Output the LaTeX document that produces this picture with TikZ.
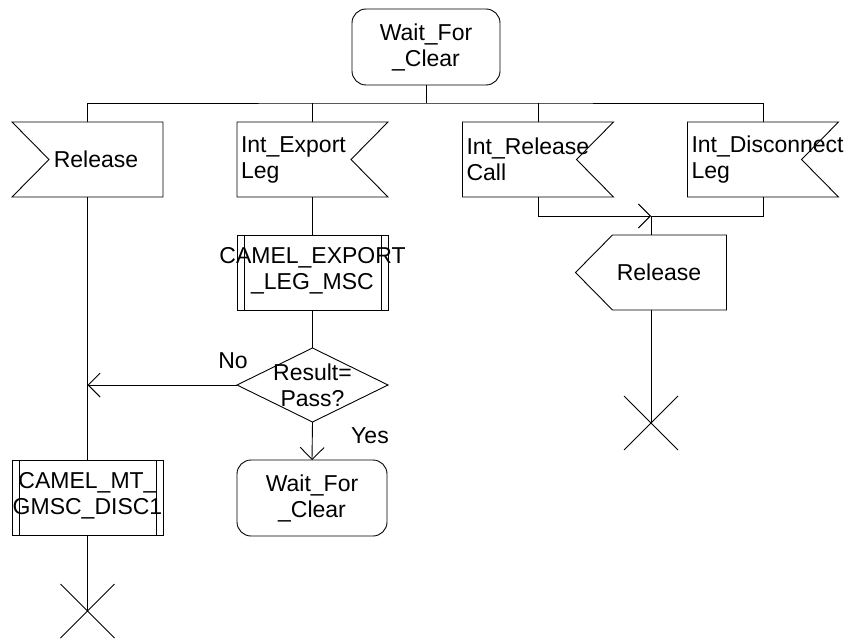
\documentclass[tikz,border=0pt]{standalone}
\usepackage{fontspec}
\setmainfont{Liberation Sans}
\usepackage{tikz}
\usetikzlibrary{arrows.meta,calc,positioning}
\tikzset{
  sdlline/.style={draw=black,line width=0.9pt},
  sdlflow/.style={-{Straight Barb[length=12pt,width=24pt]},draw=black,line width=0.9pt},
  sdltext/.style={font=\fontsize{23}{26}\selectfont,text=black},
  sdlbox/.style={sdltext,rectangle,minimum width=151pt,minimum height=75pt,inner sep=0pt,outer sep=0pt},
  sdlstate/.style={sdlbox,minimum width=148pt,minimum height=76pt,draw=black,line width=0.9pt,rounded corners=14pt,align=center},
  sdlproc/.style={sdlbox,draw=black,line width=0.9pt,
    path picture={
      \draw[line width=0.9pt]
        ([xshift=7pt]path picture bounding box.north west) -- ([xshift=7pt]path picture bounding box.south west)
        ([xshift=-7pt]path picture bounding box.north east) -- ([xshift=-7pt]path picture bounding box.south east);
    }},
  sdlinput/.style={sdlbox,text width=143pt,align=left},
  sdldecision/.style={sdlbox,minimum height=74pt,align=center},
}
\begin{document}
\begin{tikzpicture}[x=1pt,y=-1pt]
  \useasboundingbox (0,0) rectangle (854,639);

  % Start state and the four inputs hanging from the bus.
  \node[sdlstate] (st0) at (426,47) {Wait\_For\\\_Clear};
  \node[sdlinput,align=center] (in1) at (87.5,159.5) {\hspace*{17pt}Release};
  \node[sdlinput] (in2) at (312.5,159.5) {Int\_Export\\Leg};
  \node[sdlinput] (in3) at (538,159.5) {Int\_Release\\Call};
  \node[sdlinput] (in4) at (763,159.5) {Int\_Disconnect\\Leg};
  \coordinate (bus) at (426,103);

  % Middle column: procedure, decision and next state.
  \node[sdlproc] (proc1) at (312.5,272.5) {};
  \node[sdltext,align=center] (proc1txt) at ([yshift=2pt]proc1) {CAMEL\_EXPORT\\\_LEG\_MSC};
  \node[sdldecision] (dec1) at (312.5,385) {Result=\\Pass?};
  \node[sdlstate,minimum width=150pt] (st1) at (312,498) {Wait\_For\\\_Clear};
  \node[sdltext] (lblno) at (233,361) {No};
  \node[sdltext] (lblyes) at (370,436) {Yes};

  % Left column and the output on the right.
  \node[sdlproc] (proc2) at (87.5,498) {};
  \node[sdltext,align=center] (proc2txt) at ([yshift=2pt]proc2) {CAMEL\_MT\_\\GMSC\_DISC1};
  \node[sdlbox] (out1) at (651,272.5) {\hspace*{16pt}Release};
  \coordinate (mrg) at (651,216);
  \coordinate (end1) at (651,423);
  \coordinate (end2) at (87.5,611);

  % Signal and decision outlines.
  \draw[sdlline] (in1.north west) -- (in1.north east) -- (in1.south east)
    -- (in1.south west) -- ([xshift=37pt]in1.west) -- cycle;
  \foreach \n in {in2,in3,in4}
    \draw[sdlline] (\n.north west) -- (\n.north east) -- ([xshift=-37pt]\n.east)
      -- (\n.south east) -- (\n.south west) -- cycle;
  \draw[sdlline] ([xshift=37pt]out1.north west) -- (out1.north east) -- (out1.south east)
    -- ([xshift=37pt]out1.south west) -- (out1.west) -- cycle;
  \draw[sdlline] (dec1.north) -- (dec1.east) -- (dec1.south) -- (dec1.west) -- cycle;

  % Connectors.
  \draw[sdlline] (st0.south) -- (bus);
  \draw[sdlline] (in1.north) |- (bus) -| (in4.north);
  \foreach \n in {in2,in3}
    \draw[sdlline] (\n.north) -- (\n.north |- bus);
  \draw[sdlflow] (in3.south) |- (mrg);
  \draw[sdlline] (in4.south) |- (mrg);
  \draw[sdlline] (mrg) -- (out1.north);
  \draw[sdlline] (out1.south) -- (end1);
  \draw[sdlline] (in2.south) -- (proc1.north);
  \draw[sdlline] (proc1.south) -- (dec1.north);
  \draw[sdlflow] (dec1.south) -- (st1.north);
  \draw[sdlflow] (dec1.west) -- (dec1.west -| in1.south);
  \draw[sdlline] (in1.south) -- (proc2.north);
  \draw[sdlline] (proc2.south) -- (end2);

  % Stop symbols.
  \foreach \c in {end1,end2}
    \draw[sdlline] ($(\c)+(-27,-27)$) -- ($(\c)+(27,27)$)
      ($(\c)+(-27,27)$) -- ($(\c)+(27,-27)$);
\end{tikzpicture}
\end{document}
